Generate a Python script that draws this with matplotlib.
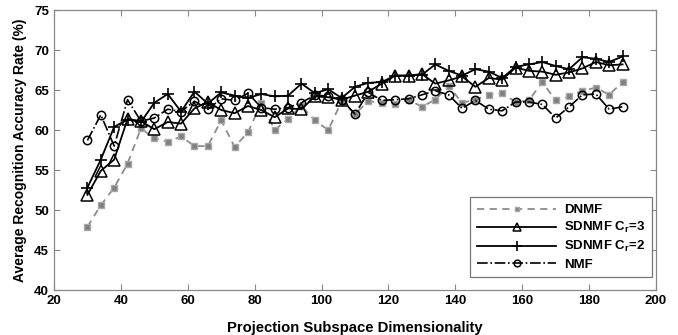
import matplotlib
matplotlib.use("Agg")
import matplotlib.pyplot as plt

plt.rcParams['font.family'] = ['Liberation Sans', 'DejaVu Sans']
plt.rcParams['mathtext.fontset'] = 'custom'
plt.rcParams['mathtext.rm'] = 'Liberation Sans:bold'
plt.rcParams['mathtext.it'] = 'Liberation Sans:bold'

dims = list(range(30, 191, 4))

dnmf = [47.9, 50.6, 52.8, 55.8, 60.2, 59.0, 58.5, 59.2, 58.0, 58.0,
        61.2, 57.9, 59.7, 63.4, 60.0, 61.4, 63.0, 61.2, 60.0, 63.6,
        62.0, 63.6, 63.4, 63.2, 63.8, 62.9, 63.8, 65.5, 63.4, 63.8,
        64.4, 64.6, 63.5, 63.7, 66.0, 63.7, 64.2, 64.9, 65.3, 64.4, 66.0]

sdnmf3 = [51.9, 54.9, 56.3, 61.4, 61.1, 60.1, 61.0, 60.8, 62.7, 63.5,
          62.5, 62.1, 63.0, 62.5, 61.6, 62.7, 62.6, 64.2, 64.1, 63.8,
          64.3, 64.8, 65.8, 66.8, 66.8, 67.0, 65.8, 66.2, 66.7, 65.4,
          66.5, 66.3, 67.8, 67.4, 67.3, 66.9, 67.2, 67.7, 68.5, 68.1, 68.2]

sdnmf2 = [52.8, 56.3, 60.4, 61.3, 61.0, 63.4, 64.5, 62.3, 64.8, 63.3,
          64.7, 64.3, 64.0, 64.5, 64.2, 64.3, 65.8, 64.6, 65.1, 64.0,
          65.4, 65.9, 66.0, 66.8, 66.8, 66.9, 68.2, 67.4, 66.8, 67.6,
          67.3, 66.5, 67.9, 68.2, 68.5, 68.0, 67.6, 69.1, 68.9, 68.5, 69.2]

nmf = [58.7, 61.9, 58.0, 63.8, 61.1, 61.5, 62.6, 62.3, 63.6, 62.6,
       63.9, 63.7, 64.6, 62.8, 62.6, 62.8, 63.4, 64.4, 64.2, 63.8,
       62.0, 64.7, 63.7, 63.8, 63.9, 64.4, 64.9, 64.4, 62.7, 63.7,
       62.6, 62.4, 63.5, 63.5, 63.2, 61.5, 62.9, 64.4, 64.5, 62.6, 62.9]

labels = ['DNMF', 'SDNMF C$_r$=3', 'SDNMF C$_r$=2', 'NMF']
x_ticks = [20, 40, 60, 80, 100, 120, 140, 160, 180, 200]
y_ticks = [40, 45, 50, 55, 60, 65, 70, 75]

fig = plt.figure(figsize=(6.78, 3.35), dpi=100)
ax = fig.add_axes([0.0796, 0.1343, 0.888, 0.8358])

ax.plot(dims, dnmf, linestyle='--', color='#8c8c8c', lw=1.3, marker='s',
        markersize=4, markerfacecolor='#7f7f7f', markeredgecolor='#a8a8a8',
        markeredgewidth=1.0, label=labels[0], dashes=(4, 3))
ax.plot(dims, sdnmf3, linestyle='-', color='black', lw=1.3, marker='^',
        markersize=8, markerfacecolor='none', markeredgecolor='black',
        markeredgewidth=1.1, label=labels[1])
ax.plot(dims, sdnmf2, linestyle='-', color='black', lw=1.3, marker='+',
        markersize=9, markeredgewidth=1.2, label=labels[2])
ax.plot(dims, nmf, linestyle='-.', color='black', lw=1.2, marker='o',
        markersize=6, markerfacecolor='none', markeredgecolor='black',
        markeredgewidth=1.1, label=labels[3])

ax.set_xlim(20, 200)
ax.set_ylim(40, 75)
ax.set_xticks(x_ticks)
ax.set_yticks(y_ticks)
ax.tick_params(direction='in', top=True, right=True, length=4,
               color='#888888', labelsize=9.5)
for lab in ax.get_xticklabels() + ax.get_yticklabels():
    lab.set_fontweight('bold')
for s in ax.spines.values():
    s.set_color('#888888')
    s.set_linewidth(0.9)

ax.set_xlabel('Projection Subspace Dimensionality', fontsize=10.7,
              fontweight='bold', labelpad=10)
ax.set_ylabel('Average Recognition Accuracy Rate (%)', fontsize=10,
              fontweight='bold', labelpad=5)

leg = ax.legend(loc='lower right', bbox_to_anchor=(0.993, 0.046),
                borderaxespad=0, fancybox=False, framealpha=1,
                edgecolor='#777777', handlelength=6.0, numpoints=1,
                prop={'weight': 'bold', 'size': 9.5}, labelspacing=0.3,
                borderpad=0.5, handletextpad=0.6, markerscale=0.8)
leg.get_frame().set_linewidth(0.9)

fig.savefig('out.png', dpi=100)
